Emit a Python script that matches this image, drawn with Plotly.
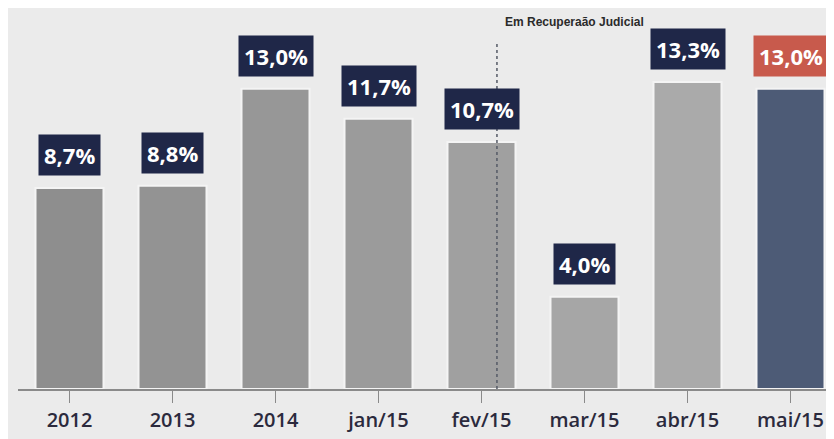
import plotly.graph_objects as go

categories = ["2012", "2013", "2014", "jan/15", "fev/15", "mar/15", "abr/15", "mai/15"]
values = [8.7, 8.8, 13.0, 11.7, 10.7, 4.0, 13.3, 13.0]
labels = ["8,7%", "8,8%", "13,0%", "11,7%", "10,7%", "4,0%", "13,3%", "13,0%"]
bar_colors = ["#8e8e8e", "#939393", "#979797", "#9b9b9b", "#a0a0a0", "#a6a6a6", "#aaaaaa", "#4d5b76"]
label_colors = ["#1f2748"] * 7 + ["#c85a4c"]
divider_pos = 4.15
divider_text = "Em Recuperaão Judicial"

fig = go.Figure()
fig.add_trace(go.Bar(
    x=list(range(len(categories))), y=values,
    marker=dict(color=bar_colors, line=dict(color="#f4f4f4", width=2)),
    hoverinfo="skip",
))

for i, (v, lab, c) in enumerate(zip(values, labels, label_colors)):
    fig.add_annotation(
        x=i, y=v, text="<b>" + lab + "</b>", showarrow=False,
        yanchor="bottom", yshift=12,
        font=dict(family="Open Sans", size=22, color="white"),
        bgcolor=c, borderpad=5,
    )

fig.add_shape(type="line", x0=divider_pos, x1=divider_pos, y0=0, y1=15.0,
              xref="x", yref="y",
              line=dict(color="#555a66", width=1.5, dash="dot"))
fig.add_annotation(x=divider_pos, y=15.9, xref="x", yref="y",
                   text="<b>" + divider_text + "</b>", showarrow=False,
                   xanchor="left", xshift=6, yanchor="middle",
                   font=dict(family="Liberation Sans", size=12, color="#2a2a2a"))

fig.update_layout(
    width=834, height=439,
    margin=dict(l=10, r=0, t=0, b=58),
    paper_bgcolor="#ebebeb", plot_bgcolor="#ebebeb",
    bargap=0.34, showlegend=False,
    xaxis=dict(
        tickmode="array", tickvals=list(range(len(categories))), ticktext=categories,
        range=[-0.5, 7.5],
        showgrid=False, zeroline=False, showline=True, linecolor="#8a8a8a", linewidth=1.5,
        ticks="outside", ticklen=12, tickcolor="#8a8a8a",
        tickfont=dict(family="Open Sans", size=20, color="#2b2a3d", weight=600),
    ),
    yaxis=dict(range=[0, 16.5], visible=False, showgrid=False, zeroline=False),
)
fig.update_xaxes(tickson="boundaries")

fig.write_html("out.html")
